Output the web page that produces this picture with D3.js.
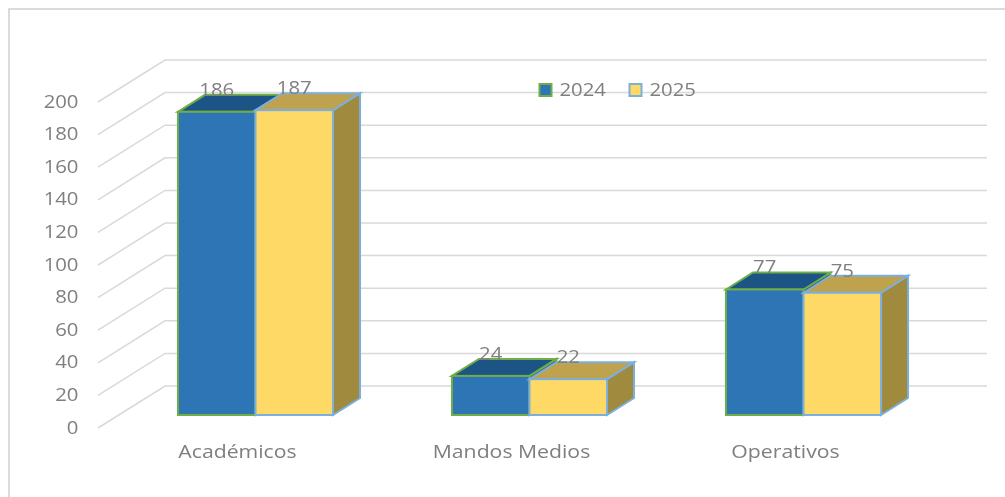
<!DOCTYPE html>
<html>
<head>
<meta charset="utf-8">
<script src="https://cdn.jsdelivr.net/npm/d3@7"></script>
<style>
  body { margin: 0; background: #fff; }
  text { font-family: "Open Sans", sans-serif; fill: #7f7f7f; font-size: 18px; }
</style>
</head>
<body>
<script>
// chart data
var categories = ["Académicos", "Mandos Medios", "Operativos"];
var seriesNames = ["2024", "2025"];
var values2024 = [186, 24, 77];
var values2025 = [187, 22, 75];
var yTicks = [0, 20, 40, 60, 80, 100, 120, 140, 160, 180, 200];

var width = 1005, height = 497;
var floorShift = 29;      // back wall to front of the bars
var bar3d = {dx: 27, dy: 17};
var wall = {left: 165, right: 987, dx: 67, dy: 42};

var colors = {
	"2024": {front: "#2e75b6", top: "#1f5585", side: "#1f5585", stroke: "#70ad47"},
	"2025": {front: "#ffd966", top: "#bfa24d", side: "#a08a3e", stroke: "#7cafdd"}
};

// the picture is stretched sideways, so the text is too
function place(x, y, stretch) {
	return "translate(" + x + "," + y + ") scale(" + stretch + ",1)";
}

var svg = d3.select("body").append("svg")
	.attr("width", width)
	.attr("height", height)
	.style("display", "block");

svg.append("defs").append("filter")
		.attr("id", "soft")
	.append("feGaussianBlur")
		.attr("stdDeviation", 0.7);

var chart = svg.append("g").attr("filter", "url(#soft)");

// frame
chart.append("rect")
	.attr("x", 9)
	.attr("y", 9)
	.attr("width", 1100)
	.attr("height", 600)
	.attr("fill", "none")
	.attr("stroke", "#d0d0d0")
	.attr("stroke-width", 1.5);

// y is the back wall, bars sit floorShift lower
var y = d3.scaleLinear().domain([0, 200]).range([386, 60]);

var x0 = d3.scaleBand()
	.domain(categories)
	.range([118.5, 940.5])
	.paddingInner(0.434)
	.paddingOuter(0.217);

var x1 = d3.scaleBand()
	.domain(seriesNames)
	.range([0, x0.bandwidth()]);

// grid on back and side wall
var grid = chart.append("g").attr("fill", "none").attr("stroke", "#d9d9d9").attr("stroke-width", 1.5);
yTicks.forEach(function(t) {
	grid.append("path")
		.attr("d", "M" + (wall.left - wall.dx) + "," + (y(t) + wall.dy) + "L" + wall.left + "," + y(t) + "H" + wall.right);
});

// tick labels
chart.append("g").selectAll("text")
	.data(yTicks)
	.enter().append("text")
	.attr("transform", function(d) { return place(78.5, y(d) + 47.5, 1.13); })
	.attr("text-anchor", "end")
	.text(function(d) { return d; });

// bars, right series over the left one
var rows = [];
categories.forEach(function(c, i) {
	rows.push({cat: c, name: "2024", value: values2024[i]});
	rows.push({cat: c, name: "2025", value: values2025[i]});
});

var bars = chart.selectAll(".bar")
	.data(rows)
	.enter().append("g")
	.attr("class", "bar");

bars.each(function(d) {
	var g = d3.select(this),
		c = colors[d.name],
		l = x0(d.cat) + x1(d.name),
		r = l + x1.bandwidth(),
		t = y(d.value) + floorShift,
		b = y(0) + floorShift;

	g.append("path") // side
		.attr("d", "M" + r + "," + t + "l" + bar3d.dx + "," + (-bar3d.dy) + "V" + (b - bar3d.dy) + "l" + (-bar3d.dx) + "," + bar3d.dy + "Z")
		.attr("fill", c.side).attr("stroke", c.stroke).attr("stroke-width", 2);
	g.append("path") // top
		.attr("d", "M" + l + "," + t + "l" + bar3d.dx + "," + (-bar3d.dy) + "H" + (r + bar3d.dx) + "l" + (-bar3d.dx) + "," + bar3d.dy + "Z")
		.attr("fill", c.top).attr("stroke", c.stroke).attr("stroke-width", 2);
	g.append("rect") // front
		.attr("x", l).attr("y", t)
		.attr("width", r - l).attr("height", b - t)
		.attr("fill", c.front).attr("stroke", c.stroke).attr("stroke-width", 2);
});

// value labels
bars.append("text")
	.attr("transform", function(d) {
		return place(x0(d.cat) + x1(d.name) + x1.bandwidth() / 2, y(d.value) + floorShift - 16, 1.13);
	})
	.attr("text-anchor", "middle")
	.text(function(d) { return d.value; });

// category labels
chart.append("g").selectAll("text")
	.data(categories)
	.enter().append("text")
	.attr("transform", function(d) { return place(x0(d) + x0.bandwidth() / 2 - 18, 458, 1.18); })
	.attr("text-anchor", "middle")
	.text(function(d) { return d; });

// legend
var legend = chart.selectAll(".legend")
	.data(seriesNames)
	.enter().append("g")
	.attr("class", "legend")
	.attr("transform", function(d, i) { return "translate(" + (539.5 + i * 90) + ",84)"; });

legend.append("rect")
	.attr("width", 12)
	.attr("height", 12)
	.attr("fill", function(d) { return colors[d].front; })
	.attr("stroke", function(d) { return colors[d].stroke; })
	.attr("stroke-width", 2);

legend.append("text")
	.attr("transform", place(20, 11.5, 1.13))
	.text(function(d) { return d; });
</script>
</body>
</html>
